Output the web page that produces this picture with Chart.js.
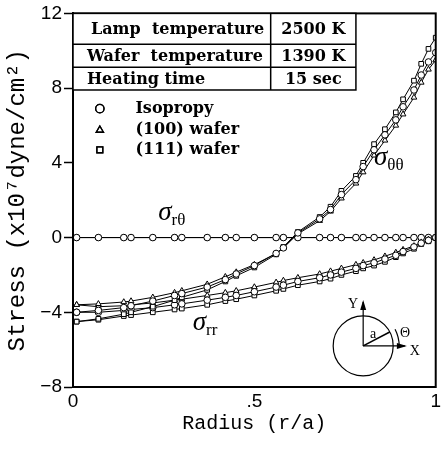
<!DOCTYPE html>
<html>
	<head>
		<meta charset="UTF-8">
		<script src="https://cdn.jsdelivr.net/npm/chart.js@4.4.0/dist/chart.umd.min.js"></script>
		<style>
			html, body { margin: 0; padding: 0; background: #fff; }
			#box { width: 444px; height: 449px; }
		</style>
	</head>
	<body>
		<div id="box"><canvas id="myChart"></canvas></div>
		<script>
			// radius r/a of the nodes
			var radius = [0.01, 0.07, 0.14, 0.16, 0.22, 0.28, 0.30, 0.37, 0.42, 0.45, 0.50, 0.56, 0.58, 0.62, 0.68, 0.71, 0.74, 0.78, 0.80, 0.83, 0.86, 0.89, 0.91, 0.94, 0.96, 0.98, 1.0];

			// sigma theta-theta
			var ttIso = [-4.0, -3.9, -3.75, -3.65, -3.4, -3.1, -3.0, -2.65, -2.25, -1.95, -1.5, -0.85, -0.55, 0.25, 1.0, 1.5, 2.3, 3.1, 3.8, 4.7, 5.5, 6.3, 7.0, 7.9, 8.7, 9.4, 9.9];
			var tt100 = [-3.6, -3.55, -3.45, -3.4, -3.2, -2.95, -2.85, -2.5, -2.1, -1.85, -1.45, -0.85, -0.55, 0.2, 0.9, 1.4, 2.1, 2.9, 3.5, 4.4, 5.2, 6.0, 6.6, 7.5, 8.3, 9.0, 9.5];
			var tt111 = [-4.5, -4.35, -4.1, -4.0, -3.7, -3.35, -3.2, -2.8, -2.35, -2.05, -1.6, -0.9, -0.5, 0.3, 1.1, 1.65, 2.5, 3.3, 4.0, 5.0, 5.8, 6.7, 7.4, 8.4, 9.3, 10.1, 10.7];

			// sigma r-r
			var rrIso = [-4.0, -4.0, -3.9, -3.85, -3.75, -3.6, -3.55, -3.35, -3.2, -3.1, -2.9, -2.65, -2.55, -2.35, -2.15, -2.0, -1.85, -1.65, -1.5, -1.35, -1.15, -0.95, -0.75, -0.5, -0.3, -0.15, 0];
			var rr100 = [-3.6, -3.7, -3.65, -3.6, -3.5, -3.35, -3.3, -3.1, -2.95, -2.85, -2.65, -2.4, -2.3, -2.15, -1.95, -1.8, -1.65, -1.45, -1.35, -1.2, -1.0, -0.8, -0.65, -0.45, -0.25, -0.1, 0];
			var rr111 = [-4.5, -4.4, -4.2, -4.15, -4.0, -3.85, -3.8, -3.6, -3.4, -3.3, -3.1, -2.85, -2.75, -2.55, -2.35, -2.2, -2.0, -1.8, -1.65, -1.5, -1.3, -1.05, -0.85, -0.6, -0.35, -0.2, 0];

			// sigma r-theta
			var rtAll = [0, 0, 0, 0, 0, 0, 0, 0, 0, 0, 0, 0, 0, 0, 0, 0, 0, 0, 0, 0, 0, 0, 0, 0, 0, 0, 0];

			var yTicks = [-8, -4, 0, 4, 8, 12];
			var xTickText = {"0": "0", "0.5": ".5", "1": "1"};

			var tableRows = [["Lamp  temperature", "2500 K"], ["Wafer  temperature", "1390 K"], ["Heating time", "15 sec"]];
			var legendItems = [["circle", "Isopropy"], ["triangle", "(100) wafer"], ["rect", "(111) wafer"]];

			function pts(vals){
				return vals.map(function(v, i){ return {x: radius[i], y: v}; });
			}
			function ds(vals, style){
				return {
					data: pts(vals),
					borderColor: "#000",
					borderWidth: 1,
					backgroundColor: "#fff",
					pointStyle: style,
					pointRadius: 3.3,
					pointBorderWidth: 1,
					pointBorderColor: "#000",
					pointBackgroundColor: "#fff",
					fill: false,
					tension: 0
				};
			}

			var serif = "'DejaVu Serif', 'Liberation Serif', serif";
			var mono = "'Liberation Mono', 'DejaVu Sans Mono', monospace";

			var extras = {
				id: "extras",
				afterDatasetsDraw: function(chart){
					var ctx = chart.ctx;
					var xs = chart.scales.x, ys = chart.scales.y;
					var X = function(v){ return xs.getPixelForValue(v); };
					var Y = function(v){ return ys.getPixelForValue(v); };
					var a = chart.chartArea;
					ctx.save();
					ctx.strokeStyle = "#000";
					ctx.fillStyle = "#000";

					// frame
					ctx.lineWidth = 2;
					ctx.strokeRect(a.left, a.top, a.right - a.left, a.bottom - a.top);

					// table box
					var tl = a.left, tr = X(0.78), tt = a.top, tb = Y(7.9);
					var rowY = [tt, Y(10.35), Y(9.12), tb];
					var colX = X(0.545);
					ctx.fillStyle = "#fff";
					ctx.fillRect(tl, tt, tr - tl, tb - tt);
					ctx.fillStyle = "#000";
					ctx.lineWidth = 1.5;
					ctx.strokeRect(tl, tt, tr - tl, tb - tt);
					ctx.beginPath();
					ctx.moveTo(tl, rowY[1]); ctx.lineTo(tr, rowY[1]);
					ctx.moveTo(tl, rowY[2]); ctx.lineTo(tr, rowY[2]);
					ctx.moveTo(colX, tt); ctx.lineTo(colX, tb);
					ctx.stroke();
					ctx.font = "bold 16px " + serif;
					ctx.textBaseline = "middle";
					for (var i = 0; i < tableRows.length; i++){
						var cy = (rowY[i] + rowY[i + 1]) / 2 + 1;
						ctx.textAlign = "left";
						ctx.fillText(tableRows[i][0], tl + (i == 0 ? 18 : 14), cy);
						ctx.textAlign = "center";
						ctx.fillText(tableRows[i][1], (colX + tr) / 2, cy);
					}

					// legend
					var legY = [6.9, 5.75, 4.7];
					ctx.lineWidth = 1.3;
					for (var j = 0; j < legendItems.length; j++){
						var mx = X(0.074), my = Y(legY[j]);
						ctx.fillStyle = "#fff";
						Chart.helpers.drawPoint(ctx, {pointStyle: legendItems[j][0], radius: 4.2, rotation: 0, borderWidth: 1.3}, mx, my);
						ctx.stroke();
						ctx.fillStyle = "#000";
						ctx.textAlign = "left";
						ctx.fillText(legendItems[j][1], X(0.172), my);
					}

					// stress labels
					function sig(r, v, sub){
						var px = X(r), py = Y(v);
						ctx.textAlign = "left";
						ctx.textBaseline = "alphabetic";
						ctx.font = "italic 27px 'Liberation Serif', serif";
						ctx.fillText("\u03c3", px, py);
						var w = ctx.measureText("\u03c3").width;
						ctx.font = "17px 'Liberation Serif', serif";
						ctx.fillText(sub, px + w, py + 5);
					}
					sig(0.83, 3.9, "\u03b8\u03b8");
					sig(0.235, 0.95, "r\u03b8");
					sig(0.33, -4.95, "rr");

					// inset wafer sketch
					var cx = X(0.80), cyy = Y(-5.8);
					var rad = 30;
					ctx.lineWidth = 1.2;
					ctx.beginPath();
					ctx.arc(cx, cyy, rad, 0, Math.PI * 2);
					ctx.stroke();
					ctx.beginPath();
					ctx.moveTo(cx, cyy); ctx.lineTo(cx, Y(-3.45));
					ctx.moveTo(cx, cyy); ctx.lineTo(X(0.915), cyy);
					ctx.stroke();
					// arrow heads
					ctx.beginPath();
					ctx.moveTo(cx, Y(-3.45) - 2); ctx.lineTo(cx - 3, Y(-3.45) + 8); ctx.lineTo(cx + 3, Y(-3.45) + 8); ctx.closePath();
					ctx.fill();
					ctx.beginPath();
					ctx.moveTo(X(0.915) + 2, cyy); ctx.lineTo(X(0.915) - 8, cyy - 3); ctx.lineTo(X(0.915) - 8, cyy + 3); ctx.closePath();
					ctx.fill();
					// radius line
					var ang = -Math.PI / 6.5;
					ctx.lineWidth = 1.5;
					ctx.beginPath();
					ctx.moveTo(cx, cyy); ctx.lineTo(cx + rad * Math.cos(ang), cyy + rad * Math.sin(ang));
					ctx.stroke();
					// theta arc
					ctx.lineWidth = 1.2;
					ctx.beginPath();
					ctx.arc(cx, cyy, rad + 6, ang, 0);
					ctx.stroke();
					ctx.font = "14px 'Liberation Serif', serif";
					ctx.textAlign = "center";
					ctx.textBaseline = "middle";
					ctx.fillText("a", cx + 10, cyy - 12);
					ctx.fillText("\u0398", cx + rad + 12, cyy - 13);
					ctx.fillText("Y", cx - 10, Y(-3.45) + 2);
					ctx.fillText("X", X(0.915) + 10, cyy + 5);
					ctx.restore();
				}
			};

			var datasets = [
				ds(ttIso, "circle"), ds(tt100, "triangle"), ds(tt111, "rect"),
				ds(rrIso, "circle"), ds(rr100, "triangle"), ds(rr111, "rect"),
				ds(rtAll, "circle"), ds(rtAll, "triangle"), ds(rtAll, "rect")
			];

			new Chart("myChart", {
				type: "line",
				data: { datasets: datasets },
				options: {
					responsive: true,
					maintainAspectRatio: false,
					animation: false,
					devicePixelRatio: 1,
					layout: { padding: { top: 13, right: 4, left: 0, bottom: 0 } },
					plugins: { legend: { display: false }, tooltip: { enabled: false } },
					scales: {
						x: {
							type: "linear",
							min: 0, max: 1,
							afterBuildTicks: function(s){ s.ticks = [{value: 0}, {value: 0.5}, {value: 1}]; },
							afterFit: function(s){ s.height = 62; },
							grid: { display: true, drawOnChartArea: false, drawTicks: false, color: "#000" },
							border: { display: true, color: "#000", width: 2 },
							ticks: {
								color: "#000",
								padding: 3,
								maxRotation: 0,
								font: { family: "'Liberation Sans', Arial, sans-serif", size: 19 },
								callback: function(v){ return xTickText[String(v)]; }
							},
							title: {
								display: true,
								text: "Radius (r/a)",
								color: "#000",
								padding: { top: 0, bottom: 13 },
								font: { family: mono, size: 20 }
							}
						},
						y: {
							type: "linear",
							min: -8, max: 12,
							afterBuildTicks: function(s){ s.ticks = yTicks.map(function(v){ return {value: v}; }); },
							afterFit: function(s){ s.width = 73; },
							grid: { display: true, drawOnChartArea: false, drawTicks: true, tickLength: 9, tickWidth: 1.5, color: "#000" },
							border: { display: true, color: "#000", width: 2 },
							ticks: {
								color: "#000",
								padding: 2,
								font: { family: "'Liberation Sans', Arial, sans-serif", size: 19 },
								callback: function(v){ return v < 0 ? "\u2212" + Math.abs(v) : String(v); }
							},
							title: {
								display: true,
								text: "Stress (x10\u2077dyne/cm\u00b2)",
								color: "#000",
								padding: { top: 3, bottom: 0 },
								font: { family: mono, size: 24 }
							}
						}
					}
				},
				plugins: [extras]
			});
		</script>
	</body>
</html>
